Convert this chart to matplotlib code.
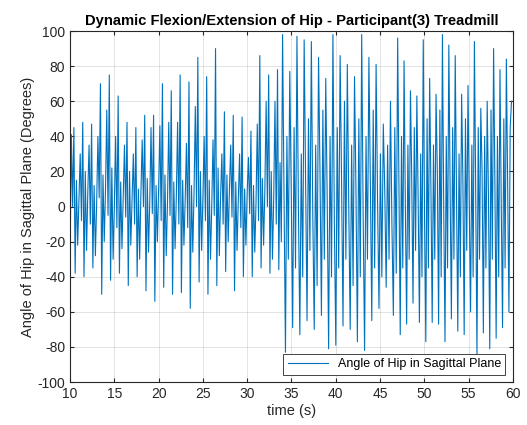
import numpy as np
import matplotlib
matplotlib.use("Agg")
import matplotlib.pyplot as plt

plt.rcParams['font.family'] = ['Liberation Sans', 'DejaVu Sans']
plt.rcParams['axes.unicode_minus'] = False

# hip angle (degrees), one list per time span
seg_10_22 = [
    -28, 41, 0, 45, -38, 15, -22,
    5, 30, -8, 48, -40, 20, -25,
    8, 35, -10, 47, -35, 12, -28,
    2, 40, 5, 70, -50, 18, -20,
    10, 55, -5, 75, -42, 22, -30,
    0, 40, -12, 63, -38, 14, -24,
    6, 35, -6, 48, -45, 20, -22,
    4, 30, -10, 45, -40, 10, -30,
    8, 38, 0, 52, -48, 16, -26,
    3, 45, -4, 52, -54, 12, -20,
    10, 46, -8, 70, -46, 18, -28,
    2, 48, -5, 66, -50, 14, -24,
]
seg_22_34 = [
    6, 48, -10, 75, -49, 15, -22,
    4, 36, -12, 71, -58, 12, -26,
    8, 57, 0, 85, -43, 20, -25,
    5, 40, -8, 74, -50, 15, -30,
    0, 38, -5, 90, -45, 22, -28,
    6, 30, -10, 54, -37, 18, -20,
    10, 35, -6, 52, -48, 14, -25,
    4, 30, -12, 51, -40, 10, -22,
    8, 28, -4, 43, -40, 12, -26,
    2, 47, -8, 86, -35, 16, -22,
    10, 60, 0, 75, -38, 20, -30,
    5, 60, -10, 78, -36, 25, -20,
]
seg_34_47 = [
    98, 5, -83, 40, -30,
    77, 10, -69, 45, -35,
    97, 0, -73, 30, -40,
    95, 15, -65, 50, -25,
    94, -5, -70, 35, -45,
    85, 20, -62, 55, -30,
    73, 5, -81, 40, -40,
    98, -10, -79, 45, -35,
    86, 15, -68, 60, -30,
    81, 0, -70, 35, -45,
    74, 10, -77, 50, -40,
    98, -5, -82, 40, -30,
    85, 15, -65, 55, -35,
    81, 5, -58, 30, -40,
    47, 10, -46, 35, -30,
    60, -10, -62, 45, -38,
]
seg_47_60 = [
    96, 10, -73, 40, -35,
    83, 0, -67, 35, -30,
    66, 15, -55, 45, -25,
    63, 5, -66, 30, -40,
    95, -5, -77, 50, -35,
    73, 10, -66, 35, -30,
    64, 20, -67, 55, -40,
    98, 0, -77, 40, -35,
    92, 10, -64, 45, -30,
    86, 5, -71, 30, -40,
    64, 15, -73, 50, -25,
    69, 0, -60, 35, -40,
    94, 10, -85, 45, -30,
    56, 20, -72, 40, -35,
    60, 5, -81, 55, -30,
    90, 15, -75, 40, -40,
    78, 0, -69, 50, -35,
    84, 10, -60, 45, 60,
]
segments = [(10, 22, seg_10_22), (22, 34, seg_22_34), (34, 47, seg_34_47), (47, 60, seg_47_60)]

t = np.concatenate([np.linspace(a, b, len(v), endpoint=False) for a, b, v in segments])
angle = np.concatenate([v for a, b, v in segments])

fig = plt.figure(figsize=(5.27, 4.25), dpi=100)
ax = fig.add_axes([0.133, 0.101, 0.840, 0.826])

ax.plot(t, angle, color='#0072BD', linewidth=0.8, label='Angle of Hip in Sagittal Plane')

ax.set_xlim(10, 60)
ax.set_ylim(-100, 100)
ax.set_xticks(np.arange(10, 61, 5))
ax.set_yticks(np.arange(-100, 101, 20))
ax.grid(True, color='#262626', alpha=0.15, linewidth=0.6)
ax.tick_params(direction='in', top=True, right=True, labelsize=10, colors='#262626', length=3)
for s in ax.spines.values():
    s.set_color('#262626')
    s.set_linewidth(0.8)

ax.set_title('Dynamic Flexion/Extension of Hip - Participant(3) Treadmill', fontsize=10.6, fontweight='bold', pad=4)
ax.set_xlabel('time (s)', fontsize=10.5, color='#262626', labelpad=2)
ax.set_ylabel('Angle of Hip in Sagittal Plane (Degrees)', fontsize=10.5, color='#262626', labelpad=2)

leg = ax.legend(loc='lower right', fontsize=9, fancybox=False, framealpha=1, edgecolor='#262626',
                handlelength=3.2, borderaxespad=0.6, borderpad=0.35)
leg.get_frame().set_linewidth(0.6)

fig.savefig('out.png', dpi=100)
